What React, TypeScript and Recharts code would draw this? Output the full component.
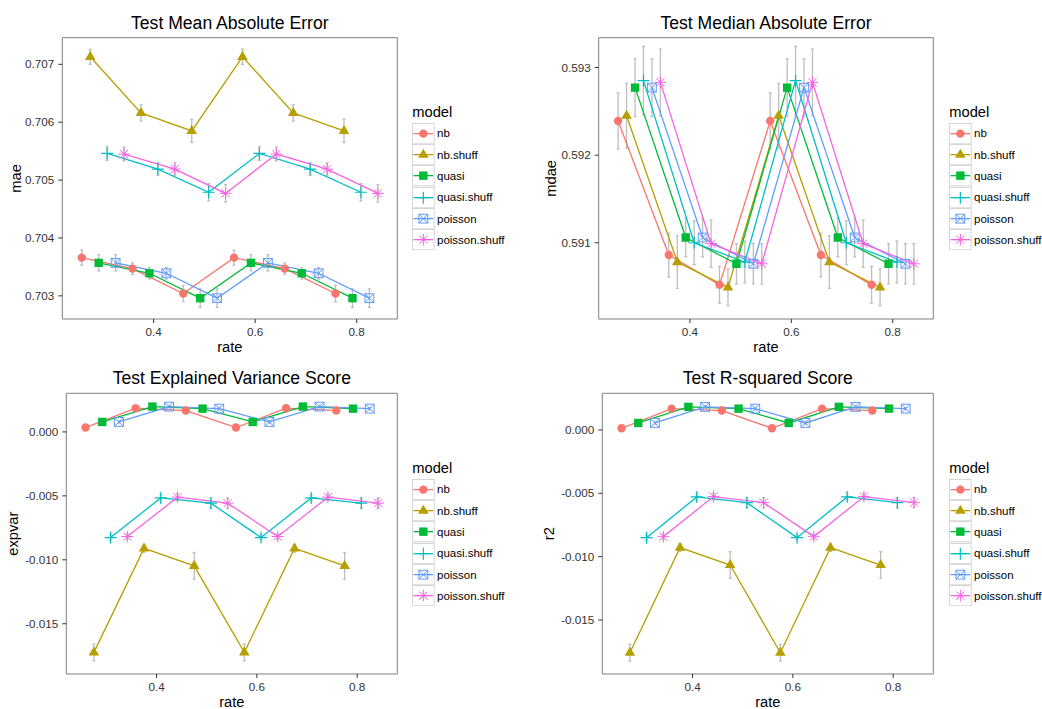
import React from 'react';
import { ScatterChart, Scatter, XAxis, YAxis, ErrorBar, ReferenceArea, Label, Legend } from 'recharts';

const FONT = '"Liberation Sans", Arial, Helvetica, sans-serif';

const rates = [0.3, 0.4, 0.5, 0.6, 0.7, 0.8];
const models = ['nb', 'nb.shuff', 'quasi', 'quasi.shuff', 'poisson', 'poisson.shuff'];
const colors = ['#F8766D', '#B79F00', '#00BA38', '#00BFC4', '#619CFF', '#F564E3'];
const shapes = ['circle', 'triangle', 'square', 'plus', 'squareX', 'asterisk'];
const dodge = [-0.0417, -0.025, -0.0083, 0.0083, 0.025, 0.0417];
const xTicks = [0.4, 0.6, 0.8];

// Test Mean Absolute Error
const maeNb = [0.70366, 0.70347, 0.70304, 0.70366, 0.70347, 0.70304];
const maeNbShuff = [0.70713, 0.70616, 0.70585, 0.70713, 0.70616, 0.70585];
const maeQuasi = [0.70357, 0.70339, 0.70296, 0.70357, 0.70339, 0.70296];
const maeQuasiShuff = [0.70546, 0.70519, 0.70479, 0.70546, 0.70519, 0.70479];
const maePoisson = [0.70357, 0.70339, 0.70296, 0.70357, 0.70339, 0.70296];
const maePoissonShuff = [0.70545, 0.70519, 0.70477, 0.70545, 0.70519, 0.70477];
const maeErrNb = [0.00013, 0.0001, 0.00014, 0.00013, 0.0001, 0.00014];
const maeErrNbShuff = [0.00013, 0.00014, 0.0002, 0.00013, 0.00014, 0.0002];
const maeErrQuasi = [0.00014, 0.0001, 0.00016, 0.00014, 0.0001, 0.00016];
const maeErrQuasiShuff = [0.00012, 0.00011, 0.00015, 0.00012, 0.00011, 0.00015];
const maeErrPoisson = [0.00014, 0.0001, 0.00016, 0.00014, 0.0001, 0.00016];
const maeErrPoissonShuff = [0.00012, 0.00011, 0.00015, 0.00012, 0.00011, 0.00015];

// Test Median Absolute Error
const mdaeNb = [0.59239, 0.59086, 0.59052, 0.59239, 0.59086, 0.59052];
const mdaeNbShuff = [0.59245, 0.59078, 0.59049, 0.59245, 0.59078, 0.59049];
const mdaeQuasi = [0.59277, 0.59106, 0.59076, 0.59277, 0.59106, 0.59076];
const mdaeQuasiShuff = [0.59285, 0.591, 0.59078, 0.59285, 0.591, 0.59078];
const mdaePoisson = [0.59277, 0.59106, 0.59076, 0.59277, 0.59106, 0.59076];
const mdaePoissonShuff = [0.59283, 0.59099, 0.59076, 0.59283, 0.59099, 0.59076];
const mdaeErrNb = [0.00032, 0.00025, 0.00021, 0.00032, 0.00025, 0.00021];
const mdaeErrNbShuff = [0.00037, 0.0003, 0.00021, 0.00037, 0.0003, 0.00021];
const mdaeErrQuasi = [0.00033, 0.00022, 0.00023, 0.00033, 0.00022, 0.00023];
const mdaeErrQuasiShuff = [0.00039, 0.00025, 0.00024, 0.00039, 0.00025, 0.00024];
const mdaeErrPoisson = [0.00033, 0.00022, 0.00023, 0.00033, 0.00022, 0.00023];
const mdaeErrPoissonShuff = [0.00038, 0.00027, 0.00023, 0.00038, 0.00027, 0.00023];

// Test Explained Variance Score
const evNb = [0.00034, 0.00185, 0.00167, 0.00034, 0.00185, 0.00167];
const evNbShuff = [-0.01724, -0.00911, -0.01047, -0.01724, -0.00911, -0.01047];
const evQuasi = [0.00078, 0.00198, 0.00182, 0.00078, 0.00198, 0.00182];
const evQuasiShuff = [-0.00826, -0.00516, -0.00557, -0.00826, -0.00516, -0.00557];
const evPoisson = [0.00078, 0.00198, 0.00182, 0.00078, 0.00198, 0.00182];
const evPoissonShuff = [-0.00818, -0.0051, -0.00557, -0.00818, -0.0051, -0.00557];
const evErrNb = [0.0001, 0.0001, 0.0001, 0.0001, 0.0001, 0.0001];
const evErrNbShuff = [0.00065, 0.0003, 0.00104, 0.00065, 0.0003, 0.00104];
const evErrQuasi = [0.0001, 0.0001, 0.0001, 0.0001, 0.0001, 0.0001];
const evErrQuasiShuff = [0.0002, 0.00025, 0.0004, 0.0002, 0.00025, 0.0004];
const evErrPoisson = [0.0001, 0.0001, 0.0001, 0.0001, 0.0001, 0.0001];
const evErrPoissonShuff = [0.0002, 0.00025, 0.0004, 0.0002, 0.00025, 0.0004];

// Test R-squared Score
const r2Nb = [0.00013, 0.00168, 0.00153, 0.00013, 0.00168, 0.00153];
const r2NbShuff = [-0.01758, -0.00929, -0.01066, -0.01758, -0.00929, -0.01066];
const r2Quasi = [0.00055, 0.00182, 0.00168, 0.00055, 0.00182, 0.00168];
const r2QuasiShuff = [-0.0085, -0.00529, -0.00574, -0.0085, -0.00529, -0.00574];
const r2Poisson = [0.00055, 0.00182, 0.00168, 0.00055, 0.00182, 0.00168];
const r2PoissonShuff = [-0.00842, -0.00526, -0.00574, -0.00842, -0.00526, -0.00574];
const r2ErrNb = [0.0001, 0.0001, 0.0001, 0.0001, 0.0001, 0.0001];
const r2ErrNbShuff = [0.00066, 0.0003, 0.00105, 0.00066, 0.0003, 0.00105];
const r2ErrQuasi = [0.0001, 0.0001, 0.0001, 0.0001, 0.0001, 0.0001];
const r2ErrQuasiShuff = [0.0002, 0.00025, 0.0004, 0.0002, 0.00025, 0.0004];
const r2ErrPoisson = [0.0001, 0.0001, 0.0001, 0.0001, 0.0001, 0.0001];
const r2ErrPoissonShuff = [0.0002, 0.00025, 0.0004, 0.0002, 0.00025, 0.0004];

const buildSeries = (vals: number[][], errs: number[][]) =>
  models.map((m, k) => rates.map((r, i) => ({ x: r + dodge[k], y: vals[k][i], e: errs[k][i] })));

function Marker({ kind, cx, cy, color }: { kind: string; cx: number; cy: number; color: string }) {
  if (cx == null || cy == null || isNaN(cx) || isNaN(cy)) return <g />;
  switch (kind) {
    case 'circle':
      return <circle cx={cx} cy={cy} r={4.2} fill={color} />;
    case 'triangle':
      return <polygon points={`${cx},${cy - 6} ${cx + 5.3},${cy + 3.1} ${cx - 5.3},${cy + 3.1}`} fill={color} />;
    case 'square':
      return <rect x={cx - 4.2} y={cy - 4.2} width={8.4} height={8.4} fill={color} />;
    case 'plus':
      return <path d={`M${cx - 6},${cy}H${cx + 6}M${cx},${cy - 6}V${cy + 6}`} stroke={color} strokeWidth={1.2} fill="none" />;
    case 'squareX':
      return (
        <g stroke={color} strokeWidth={1} fill="none">
          <rect x={cx - 4.4} y={cy - 4.4} width={8.8} height={8.8} />
          <path d={`M${cx - 4.4},${cy - 4.4}L${cx + 4.4},${cy + 4.4}M${cx - 4.4},${cy + 4.4}L${cx + 4.4},${cy - 4.4}`} />
        </g>
      );
    case 'asterisk':
      return (
        <path
          d={`M${cx - 5.8},${cy}H${cx + 5.8}M${cx},${cy - 5.8}V${cy + 5.8}M${cx - 4.1},${cy - 4.1}L${cx + 4.1},${cy + 4.1}M${cx - 4.1},${cy + 4.1}L${cx + 4.1},${cy - 4.1}`}
          stroke={color}
          strokeWidth={1}
          fill="none"
        />
      );
    default:
      return <g />;
  }
}

function ModelLegend() {
  return (
    <div style={{ fontFamily: FONT, color: '#000' }}>
      <div style={{ fontSize: 14.7, height: 19.7, lineHeight: '19.7px', whiteSpace: 'nowrap' }}>model</div>
      {models.map((m, k) => (
        <div key={m} style={{ display: 'flex', alignItems: 'center', height: 21.3 }}>
          <svg width={22.7} height={21.3} style={{ display: 'block', flex: 'none' }}>
            <rect x={0.5} y={0.5} width={21.7} height={20.3} fill="#FFFFFF" stroke="#D6D6D6" strokeWidth={1} />
            <line x1={1.5} x2={21.2} y1={10.65} y2={10.65} stroke={colors[k]} strokeWidth={1.3} />
            <Marker kind={shapes[k]} cx={11.35} cy={10.65} color={colors[k]} />
          </svg>
          <span style={{ fontSize: 11.5, marginLeft: 2, whiteSpace: 'nowrap' }}>{m}</span>
        </div>
      ))}
    </div>
  );
}

type PanelProps = {
  title: string;
  yLabel: string;
  yLabelOffset: number;
  series: { x: number; y: number; e: number }[][];
  yDomain: [number, number];
  yTicks: number[];
  left: number;
  top: number;
  width: number;
  height: number;
  plotLeft: number;
  plotRight: number;
  plotTop: number;
  plotBottom: number;
  legendLeft: number;
  legendTop: number;
};

function Panel(p: PanelProps) {
  const yAxisWidth = p.plotLeft - p.left;
  const marginRight = p.left + p.width - p.plotRight;
  const marginTop = p.plotTop - p.top;
  const xAxisHeight = p.top + p.height - p.plotBottom;
  const xDomain: [number, number] = [0.22, 0.88];

  const TitleContent = (lp: any) => {
    const vb = lp.viewBox || {};
    const x = vb.x + vb.width / 2;
    const y = vb.y - 9;
    return (
      <text x={x} y={y} textAnchor="middle" fontSize={17.6} fontFamily={FONT} fill="#000">
        {p.title}
      </text>
    );
  };
  const XTitleContent = (lp: any) => {
    const vb = lp.viewBox || {};
    const x = vb.x + vb.width / 2;
    const y = vb.y + vb.height + 32.7;
    return (
      <text x={x} y={y} textAnchor="middle" fontSize={14.7} fontFamily={FONT} fill="#000">
        rate
      </text>
    );
  };
  const YTitleContent = (lp: any) => {
    const vb = lp.viewBox || {};
    const x = vb.x - p.yLabelOffset;
    const y = vb.y + vb.height / 2;
    return (
      <text x={x} y={y} transform={`rotate(-90 ${x} ${y})`} textAnchor="middle" fontSize={14.7} fontFamily={FONT} fill="#000">
        {p.yLabel}
      </text>
    );
  };

  return (
    <div style={{ position: 'absolute', left: p.left, top: p.top, width: p.width, height: p.height }}>
      <ScatterChart
        width={p.width}
        height={p.height}
        margin={{ top: marginTop, right: marginRight, bottom: 0, left: 0 }}
        style={{ fontFamily: FONT }}
      >
        <XAxis
          type="number"
          dataKey="x"
          domain={xDomain}
          allowDataOverflow
          ticks={xTicks}
          interval={0}
          tickFormatter={(v: number) => v.toFixed(1)}
          height={xAxisHeight}
          axisLine={false}
          tickLine={{ stroke: '#333333' }}
          tickSize={4}
          tickMargin={4.5}
          tick={{ fontSize: 11.7, fill: '#333333', fontFamily: FONT }}
        />
        <YAxis
          type="number"
          dataKey="y"
          domain={p.yDomain}
          allowDataOverflow
          ticks={p.yTicks}
          interval={0}
          tickFormatter={(v: number) => v.toFixed(3)}
          width={yAxisWidth}
          axisLine={false}
          tickLine={{ stroke: '#333333' }}
          tickSize={4}
          tickMargin={4}
          tick={{ fontSize: 11.7, fill: '#333333', fontFamily: FONT }}
        />
        {p.series.map((d, k) => (
          <Scatter
            key={`err-${k}`}
            data={d}
            isAnimationActive={false}
            shape={() => <g />}
            legendType="none"
          >
            <ErrorBar dataKey="e" direction="y" width={1.5} stroke="#BEBEBE" strokeWidth={1.3} isAnimationActive={false} />
          </Scatter>
        ))}
        {p.series.map((d, k) => (
          <Scatter
            key={`line-${k}`}
            data={d}
            isAnimationActive={false}
            line={{ stroke: colors[k], strokeWidth: 1.3 }}
            lineType="joint"
            shape={() => <g />}
            legendType="none"
          />
        ))}
        {p.series.map((d, k) => (
          <Scatter
            key={`pts-${k}`}
            name={models[k]}
            data={d}
            isAnimationActive={false}
            fill={colors[k]}
            shape={(sp: any) => <Marker kind={shapes[k]} cx={sp.cx} cy={sp.cy} color={colors[k]} />}
          />
        ))}
        <ReferenceArea
          x1={xDomain[0]}
          x2={xDomain[1]}
          y1={p.yDomain[0]}
          y2={p.yDomain[1]}
          ifOverflow="visible"
          fill="none"
          fillOpacity={0}
          stroke="#7F7F7F"
          strokeWidth={1}
        >
          <Label content={TitleContent} />
          <Label content={XTitleContent} />
          <Label content={YTitleContent} />
        </ReferenceArea>
        <Legend
          layout="vertical"
          align="center"
          verticalAlign="middle"
          content={() => <ModelLegend />}
          wrapperStyle={{ position: 'absolute', left: p.legendLeft, top: p.legendTop, width: 'auto', height: 'auto' }}
        />
      </ScatterChart>
    </div>
  );
}

export default function App() {
  const maeSeries = buildSeries(
    [maeNb, maeNbShuff, maeQuasi, maeQuasiShuff, maePoisson, maePoissonShuff],
    [maeErrNb, maeErrNbShuff, maeErrQuasi, maeErrQuasiShuff, maeErrPoisson, maeErrPoissonShuff]
  );
  const mdaeSeries = buildSeries(
    [mdaeNb, mdaeNbShuff, mdaeQuasi, mdaeQuasiShuff, mdaePoisson, mdaePoissonShuff],
    [mdaeErrNb, mdaeErrNbShuff, mdaeErrQuasi, mdaeErrQuasiShuff, mdaeErrPoisson, mdaeErrPoissonShuff]
  );
  const evSeries = buildSeries(
    [evNb, evNbShuff, evQuasi, evQuasiShuff, evPoisson, evPoissonShuff],
    [evErrNb, evErrNbShuff, evErrQuasi, evErrQuasiShuff, evErrPoisson, evErrPoissonShuff]
  );
  const r2Series = buildSeries(
    [r2Nb, r2NbShuff, r2Quasi, r2QuasiShuff, r2Poisson, r2PoissonShuff],
    [r2ErrNb, r2ErrNbShuff, r2ErrQuasi, r2ErrQuasiShuff, r2ErrPoisson, r2ErrPoissonShuff]
  );

  return (
    <div style={{ position: 'absolute', left: 0, top: 0, width: 1042, height: 709, background: '#FFFFFF', fontFamily: FONT, overflow: 'hidden' }}>
      <Panel
        title="Test Mean Absolute Error"
        yLabel="mae"
        yLabelOffset={41.5}
        series={maeSeries}
        yDomain={[0.7026, 0.70746]}
        yTicks={[0.703, 0.704, 0.705, 0.706, 0.707]}
        left={0}
        top={0}
        width={520}
        height={355}
        plotLeft={62.3}
        plotRight={397.3}
        plotTop={37.7}
        plotBottom={319}
        legendLeft={412.3}
        legendTop={103}
      />
      <Panel
        title="Test Median Absolute Error"
        yLabel="mdae"
        yLabelOffset={42.5}
        series={mdaeSeries}
        yDomain={[0.59013, 0.59334]}
        yTicks={[0.591, 0.592, 0.593]}
        left={520}
        top={0}
        width={522}
        height={355}
        plotLeft={598.7}
        plotRight={933.3}
        plotTop={37.7}
        plotBottom={319}
        legendLeft={429.3}
        legendTop={103}
      />
      <Panel
        title="Test Explained Variance Score"
        yLabel="expvar"
        yLabelOffset={48}
        series={evSeries}
        yDomain={[-0.01893, 0.00302]}
        yTicks={[-0.015, -0.01, -0.005, 0]}
        left={0}
        top={355}
        width={520}
        height={354}
        plotLeft={66.3}
        plotRight={397.3}
        plotTop={393.3}
        plotBottom={674}
        legendLeft={412.3}
        legendTop={104}
      />
      <Panel
        title="Test R-squared Score"
        yLabel="r2"
        yLabelOffset={48}
        series={r2Series}
        yDomain={[-0.01926, 0.00289]}
        yTicks={[-0.015, -0.01, -0.005, 0]}
        left={520}
        top={355}
        width={522}
        height={354}
        plotLeft={602.3}
        plotRight={933.3}
        plotTop={393.3}
        plotBottom={674}
        legendLeft={429.3}
        legendTop={104}
      />
    </div>
  );
}
